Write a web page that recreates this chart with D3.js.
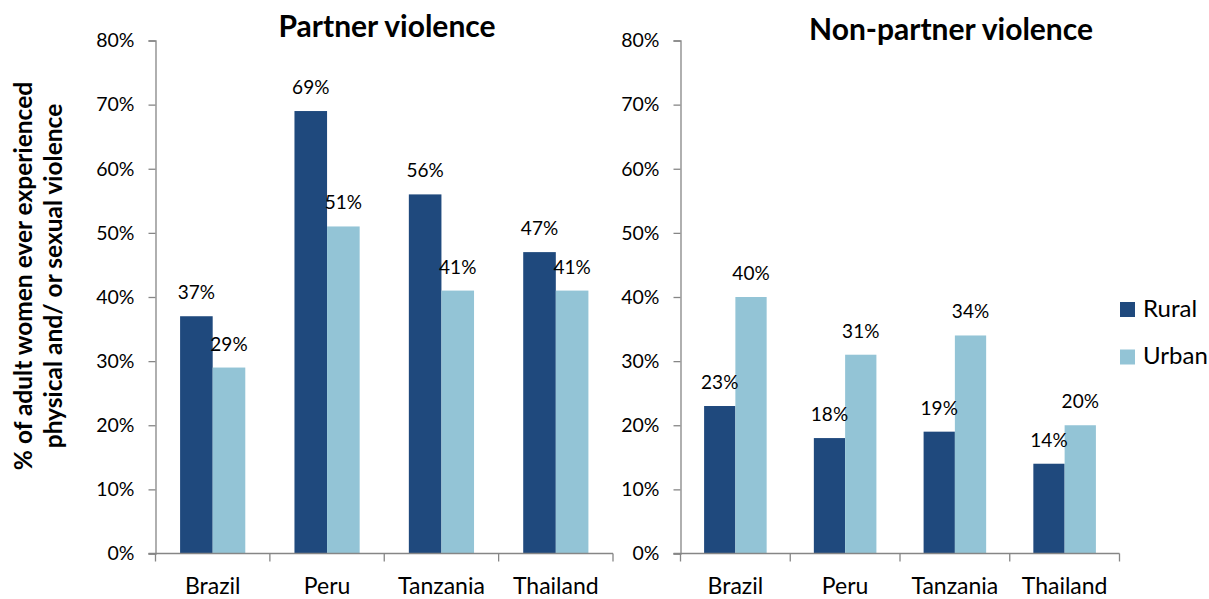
<!DOCTYPE html>
<html><head><meta charset="utf-8">
<script src="https://cdn.jsdelivr.net/npm/d3@7"></script>
<style>body{margin:0;background:#fff;} svg{display:block;}</style>
</head><body>
<svg id="c" width="1209" height="599"></svg>
<script>
const categories = ["Brazil", "Peru", "Tanzania", "Thailand"];
const seriesNames = ["Rural", "Urban"];
const partnerRural = [37, 69, 56, 47];
const partnerUrban = [29, 51, 41, 41];
const nonPartnerRural = [23, 18, 19, 14];
const nonPartnerUrban = [40, 31, 34, 20];
const yTicks = [0, 10, 20, 30, 40, 50, 60, 70, 80];
const titles = ["Partner violence", "Non-partner violence"];
const yTitleLines = ["% of adult women ever experienced", "physical and/ or sexual violence"];

const colors = {Rural: "#1f497d", Urban: "#93c4d6"};
const FONT = "Lato, 'Open Sans', sans-serif";
const svg = d3.select("#c");

const y = d3.scaleLinear().domain([0, 80]).range([553.5, 40.5]);

const panels = [
  {title: titles[0], rural: partnerRural, urban: partnerUrban, x0: 155.5, x1: 613, titleX: 387, titleY: 37},
  {title: titles[1], rural: nonPartnerRural, urban: nonPartnerUrban, x0: 680.5, x1: 1119.5, titleX: 951, titleY: 40}
];

panels.forEach(p => {
  const x = d3.scaleBand().domain(categories).range([p.x0, p.x1]).paddingInner(0.43).paddingOuter(0.215);
  const xs = d3.scaleBand().domain(seriesNames).range([0, x.bandwidth()]);
  const g = svg.append("g");

  // y axis
  const ya = g.append("g").attr("transform", `translate(${p.x0},0)`)
    .call(d3.axisLeft(y).tickValues(yTicks).tickFormat(d => d + "%").tickSize(7).tickPadding(14));
  ya.select(".domain").attr("stroke", "#868686").attr("stroke-width", 1.3);
  ya.selectAll(".tick line").attr("stroke", "#868686").attr("stroke-width", 1.3);
  ya.selectAll("text").attr("font-family", FONT).attr("font-size", 19.5).attr("fill", "#000");

  // bars
  const data = [];
  categories.forEach((c, i) => {
    data.push({c, s: "Rural", v: p.rural[i]});
    data.push({c, s: "Urban", v: p.urban[i]});
  });
  g.selectAll("rect.bar").data(data).enter().append("rect")
    .attr("x", d => x(d.c) + xs(d.s))
    .attr("width", xs.bandwidth())
    .attr("y", d => y(d.v))
    .attr("height", d => y(0) - y(d.v))
    .attr("fill", d => colors[d.s]);

  g.selectAll("text.lbl").data(data).enter().append("text")
    .attr("x", d => x(d.c) + xs(d.s) + xs.bandwidth() / 2)
    .attr("y", d => y(d.v) - 17)
    .attr("text-anchor", "middle")
    .attr("font-family", FONT).attr("font-size", 19).attr("fill", "#000")
    .text(d => d.v + "%");

  // x axis
  const xBoundaries = d3.scaleLinear().domain([0, categories.length]).range([p.x0, p.x1]);
  const xa = g.append("g").attr("transform", `translate(0,${y(0)})`);
  xa.append("line").attr("x1", p.x0 - 7).attr("x2", p.x1).attr("stroke", "#868686").attr("stroke-width", 1.3);
  xa.selectAll("line.tk").data(d3.range(categories.length + 1)).enter().append("line")
    .attr("x1", d => xBoundaries(d)).attr("x2", d => xBoundaries(d))
    .attr("y1", 0).attr("y2", 8).attr("stroke", "#868686").attr("stroke-width", 1.3);
  xa.selectAll("text").data(categories).enter().append("text")
    .attr("x", d => x(d) + x.bandwidth() / 2)
    .attr("y", 40)
    .attr("text-anchor", "middle")
    .attr("font-family", FONT).attr("font-size", 23).attr("fill", "#000")
    .text(d => d);

  svg.append("text").attr("x", p.titleX).attr("y", p.titleY)
    .attr("text-anchor", "middle").attr("font-family", FONT).attr("font-weight", "bold")
    .attr("font-size", 30).attr("fill", "#000").text(p.title);
});

// y title
yTitleLines.forEach((t, i) => {
  svg.append("text")
    .attr("transform", `translate(${32 + i * 30},276) rotate(-90)`)
    .attr("text-anchor", "middle").attr("font-family", FONT).attr("font-weight", "bold")
    .attr("font-size", 24.5).attr("fill", "#000").text(t);
});

// legend
const lg = svg.append("g");
seriesNames.forEach((s, i) => {
  lg.append("rect").attr("x", 1120).attr("y", 302 + i * 47.5).attr("width", 15).attr("height", 15).attr("fill", colors[s]);
  lg.append("text").attr("x", 1143).attr("y", 317 + i * 47)
    .attr("font-family", FONT).attr("font-size", 24).attr("fill", "#000").text(s);
});
</script>
</body></html>
